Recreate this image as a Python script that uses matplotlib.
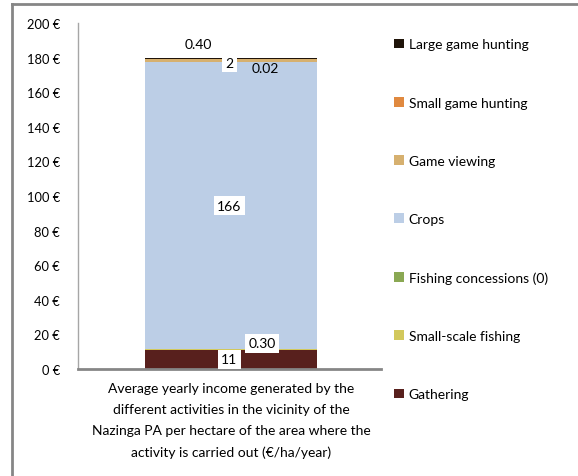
import matplotlib
matplotlib.use("Agg")
import matplotlib.pyplot as plt
from matplotlib.patches import Patch
from matplotlib.lines import Line2D

plt.rcParams['font.family'] = ['Lato', 'DejaVu Sans']

# stacked from bottom to top
activities = ["Gathering", "Small-scale fishing", "Fishing concessions (0)", "Crops",
              "Game viewing", "Small game hunting", "Large game hunting"]
values = [11, 0.30, 0, 166, 2, 0.02, 0.40]
value_labels = ["11", "0.30", "", "166", "2", "0.02", "0.40"]
colors = ["#58201d", "#d2c85c", "#8aa853", "#bccee6", "#d6b06f", "#e0893f", "#1f1409"]
category = ("Average yearly income generated by the\n"
            "different activities in the vicinity of the\n"
            "Nazinga PA per hectare of the area where the\n"
            "activity is carried out (\u20ac/ha/year)")
yticks = list(range(0, 201, 20))

fig = plt.figure(figsize=(5.78, 4.77), dpi=100)
ax = fig.add_axes([0.135, 0.2243, 0.524, 0.7254])

bottom = 0
tops = []
for v, c in zip(values, colors):
    ax.bar(0.005, v, width=0.57, bottom=bottom, color=c, linewidth=0)
    tops.append((bottom, v))
    bottom += v

# data labels (x offset, y position, boxed?)
label_pos = {
    0: (0.0, tops[0][0] + tops[0][1] / 2, True),
    1: (0.107, 15, True),
    3: (0.0, tops[3][0] + tops[3][1] / 2, True),
    4: (0.0, 177.0, True),
    5: (0.117, 174, False),
    6: (-0.104, 188, False),
}
for i, (x, y, boxed) in label_pos.items():
    kw = dict(ha="center", va="center", fontsize=10, color="black")
    if boxed:
        kw["bbox"] = dict(facecolor="white", edgecolor="none", pad=2.5)
    ax.text(x, y, value_labels[i], **kw)

ax.set_xlim(-0.5, 0.5)
ax.set_ylim(0, 200)
ax.set_yticks(yticks)
ax.set_yticklabels([f"{t} \u20ac" for t in yticks], fontsize=9.3)
ax.set_xticks([0.005])
ax.set_xticklabels([category], fontsize=10, linespacing=1.9)
ax.tick_params(axis="both", length=0)
ax.tick_params(axis="y", pad=13)
ax.tick_params(axis="x", pad=9)
for s in ["top", "right"]:
    ax.spines[s].set_visible(False)
ax.spines["left"].set_color("#a6a6a6")
ax.spines["left"].set_linewidth(1.0)
ax.spines["bottom"].set_color("#868686")
ax.spines["bottom"].set_linewidth(2.0)

handles = [Patch(facecolor=c, edgecolor="none") for c in colors][::-1]
fig.legend(handles, activities[::-1], loc="upper left", bbox_to_anchor=(0.672, 0.929),
           frameon=False, fontsize=10, handlelength=0.7, handleheight=0.7,
           handletextpad=0.35, labelspacing=3.33, borderaxespad=0)

# outer chart frame
fig.add_artist(Line2D([0.021, 1.0], [0.989, 0.989], transform=fig.transFigure,
                      color="#868686", lw=2))
fig.add_artist(Line2D([0.021, 0.021], [0.0, 0.989], transform=fig.transFigure,
                      color="#868686", lw=2))

fig.savefig("out.png", dpi=100)
